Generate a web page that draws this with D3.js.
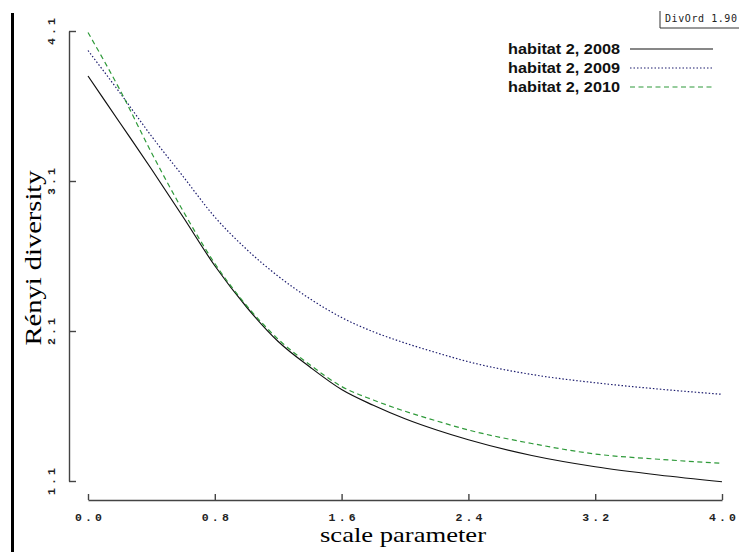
<!DOCTYPE html>
<html>
<head>
<meta charset="utf-8">
<script src="https://cdn.jsdelivr.net/npm/d3@7"></script>
<style>
  body { margin: 0; background: #fff; }
  svg { display: block; }
</style>
</head>
<body>
<svg width="739" height="552"></svg>
<script>
// values
var scaleParam = [0, 0.2, 0.4, 0.6, 0.8, 1.0, 1.2, 1.4, 1.6, 1.8, 2.0, 2.2, 2.4, 2.8, 3.2, 3.6, 4.0];
var div2008 = [3.80, 3.49, 3.18, 2.86, 2.535, 2.26, 2.03, 1.86, 1.71, 1.605, 1.515, 1.44, 1.375, 1.27, 1.195, 1.14, 1.095];
var div2009 = [3.97, 3.69, 3.40, 3.13, 2.86, 2.645, 2.465, 2.315, 2.19, 2.095, 2.02, 1.955, 1.895, 1.81, 1.755, 1.713, 1.678];
var div2010 = [4.09, 3.71, 3.29, 2.90, 2.55, 2.27, 2.045, 1.875, 1.73, 1.64, 1.565, 1.50, 1.44, 1.35, 1.28, 1.245, 1.218];
var seriesNames = ["habitat 2, 2008", "habitat 2, 2009", "habitat 2, 2010"];
var xTicks = [0, 0.8, 1.6, 2.4, 3.2, 4.0];
var yTicks = [1.1, 2.1, 3.1, 4.1];

var styles = [
    { color: "#111", dash: null },
    { color: "#1c1c6e", dash: "1.5,2" },
    { color: "#2f9a3a", dash: "5,3.5" }
];

var svg = d3.select("svg");

var x = d3.scaleLinear().domain([0, 4]).range([88, 722]);
var y = d3.scaleLinear().domain([1.1, 4.1]).range([481, 31]);

// thick frame bar on the left
svg.append("rect")
    .attr("x", 11).attr("y", 13)
    .attr("width", 3).attr("height", 539)
    .attr("fill", "#000");

// x axis
var gx = svg.append("g")
    .attr("transform", "translate(0,500)")
    .call(d3.axisBottom(x)
        .tickValues(xTicks)
        .tickSizeInner(-6)
        .tickSizeOuter(0)
        .tickPadding(13)
        .tickFormat(d3.format(".1f")));

// y axis
var gy = svg.append("g")
    .attr("transform", "translate(69,0)")
    .call(d3.axisLeft(y)
        .tickValues(yTicks)
        .tickSizeInner(-7)
        .tickSizeOuter(0)
        .tickFormat(d3.format(".1f")));

gy.selectAll(".tick text")
    .attr("transform", "rotate(-90)")
    .attr("x", 0)
    .attr("y", -14)
    .attr("dy", 0)
    .attr("text-anchor", "middle");

[gx, gy].forEach(function(g) {
    g.select(".domain").attr("stroke", "#444").attr("stroke-width", 1.4);
    g.selectAll(".tick line").attr("stroke", "#444").attr("stroke-width", 1.4);
    g.selectAll(".tick text")
        .attr("fill", "#222")
        .attr("font-family", "'Liberation Mono', 'DejaVu Sans Mono', monospace")
        .attr("font-weight", "bold")
        .attr("font-size", 11.5)
        .attr("textLength", 27)
        .attr("lengthAdjust", "spacing");
});

// axis titles
svg.append("text")
    .attr("x", 403).attr("y", 542)
    .attr("text-anchor", "middle")
    .attr("font-family", "'Liberation Serif', 'DejaVu Serif', serif")
    .attr("font-size", 21)
    .attr("textLength", 166)
    .attr("lengthAdjust", "spacingAndGlyphs")
    .text("scale parameter");

svg.append("text")
    .attr("transform", "translate(41,258) rotate(-90)")
    .attr("text-anchor", "middle")
    .attr("font-family", "'Liberation Serif', 'DejaVu Serif', serif")
    .attr("font-size", 23)
    .attr("textLength", 175)
    .attr("lengthAdjust", "spacingAndGlyphs")
    .text("Rényi diversity");

// curves
var line = d3.line()
    .x(function(d) { return x(d[0]); })
    .y(function(d) { return y(d[1]); })
    .curve(d3.curveMonotoneX);

[div2008, div2009, div2010].forEach(function(vals, i) {
    svg.append("path")
        .datum(scaleParam.map(function(t, j) { return [t, vals[j]]; }))
        .attr("fill", "none")
        .attr("stroke", styles[i].color)
        .attr("stroke-width", 1.2)
        .attr("stroke-dasharray", styles[i].dash)
        .attr("d", line);
});

// legend
var legend = svg.append("g").attr("class", "legend");
var rowsY = [49, 68, 87];
seriesNames.forEach(function(name, i) {
    legend.append("text")
        .attr("x", 620).attr("y", rowsY[i] + 5)
        .attr("text-anchor", "end")
        .attr("font-family", "'Liberation Sans', Arial, sans-serif")
        .attr("font-weight", "bold")
        .attr("font-size", 15)
        .attr("textLength", 112)
        .attr("lengthAdjust", "spacingAndGlyphs")
        .attr("fill", "#111")
        .text(name);
    legend.append("line")
        .attr("x1", 630).attr("x2", 713)
        .attr("y1", rowsY[i]).attr("y2", rowsY[i])
        .attr("stroke", styles[i].color)
        .attr("stroke-width", 1.2)
        .attr("stroke-dasharray", styles[i].dash);
});

// version stamp box
var stamp = svg.append("g");
stamp.append("path")
    .attr("d", "M660,11V28H739")
    .attr("fill", "none")
    .attr("stroke", "#333")
    .attr("stroke-width", 1);
stamp.append("text")
    .attr("x", 665).attr("y", 22)
    .attr("font-family", "'DejaVu Sans Mono', monospace")
    .attr("font-size", 10)
    .attr("textLength", 72)
    .attr("fill", "#222")
    .text("DivOrd 1.90");
</script>
</body>
</html>
